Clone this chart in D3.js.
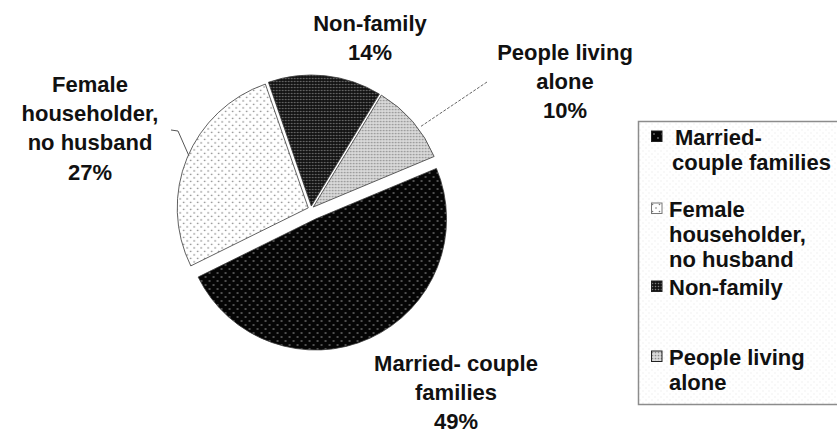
<!DOCTYPE html>
<html>
<head>
<meta charset="utf-8">
<script src="https://cdn.jsdelivr.net/npm/d3@7"></script>
<style>
  html, body { margin: 0; padding: 0; background: #fff; }
  svg { display: block; font-family: "Liberation Sans", Arial, sans-serif; }
</style>
</head>
<body>
<svg id="chart" width="837" height="435"></svg>
<script>
// Household composition shares (percent)
const categories = ["Married- couple families", "Female householder, no husband", "Non-family", "People living alone"];
const values = [49, 27, 14, 10];
const sliceLabelLines = [["Married- couple", "families"], ["Female", "householder,", "no husband"], ["Non-family"], ["People living", "alone"]];
const legendLines = [["Married-", "couple families"], ["Female", "householder,", "no husband"], ["Non-family"], ["People living", "alone"]];

const W = 837, H = 435;
const svg = d3.select("#chart");
const defs = svg.append("defs");

// Fill textures for the four slices
function dotPattern(id, size, bg, dots, dotColor, r) {
  const p = defs.append("pattern").attr("id", id).attr("patternUnits", "userSpaceOnUse")
    .attr("width", size).attr("height", size);
  p.append("rect").attr("width", size).attr("height", size).attr("fill", bg);
  dots.forEach(([x, y]) => p.append("circle").attr("cx", x).attr("cy", y).attr("r", r).attr("fill", dotColor));
  return `url(#${id})`;
}
const fills = [
  dotPattern("pMarried", 8, "#050505", [[2, 2], [6, 6]], "#6e6e6e", 0.95),
  dotPattern("pFemale", 7, "#ffffff", [[1.5, 1.5], [5, 5]], "#7a7a7a", 0.8),
  dotPattern("pNonFam", 3, "#131313", [[1.5, 1.5]], "#7c7c7c", 0.8),
  dotPattern("pAlone", 3, "#dadada", [[1.5, 1.5]], "#8c8c8c", 0.85)
];
const legendBg = dotPattern("pLegend", 6, "#ffffff", [[1, 1], [4, 4]], "#ececec", 0.7);

// Pie geometry
const cx = 311, cy = 209, radius = 131;
const explode = [11, 3, 3, 3];
const startAngle = 67.3 * Math.PI / 180;

const pie = d3.pie().sort(null).value(d => d)
  .startAngle(startAngle).endAngle(startAngle + 2 * Math.PI);
const arcs = pie(values);
const arc = d3.arc().innerRadius(0).outerRadius(radius);

const g = svg.append("g").attr("transform", `translate(${cx},${cy})`);
g.selectAll("path.slice").data(arcs).join("path")
  .attr("class", "slice")
  .attr("d", arc)
  .attr("fill", (d, i) => fills[i])
  .attr("stroke", "#3a3a3a")
  .attr("stroke-width", 0.8)
  .attr("transform", (d, i) => {
    const mid = (d.startAngle + d.endAngle) / 2;
    return `translate(${Math.sin(mid) * explode[i]},${-Math.cos(mid) * explode[i]})`;
  });

// Leader lines
svg.append("polyline").attr("points", "171,130 178,131 189,156")
  .attr("fill", "none").attr("stroke", "#555").attr("stroke-width", 1);
svg.append("line").attr("x1", 487).attr("y1", 82).attr("x2", 420).attr("y2", 127)
  .attr("stroke", "#666").attr("stroke-width", 1).attr("stroke-dasharray", "3,1.5");

// Slice labels: anchor (centre x, first baseline)
const labelAnchors = [[456, 371], [90, 92], [370, 31], [565, 60]];
const labelLineH = 29.2;
svg.selectAll("text.slabel").data(arcs).join("text")
  .attr("class", "slabel")
  .attr("text-anchor", "middle")
  .attr("font-size", 22).attr("font-weight", "bold").attr("fill", "#111")
  .each(function (d, i) {
    const t = d3.select(this);
    const lines = sliceLabelLines[i].concat([`${d.value}%`]);
    lines.forEach((ln, k) => t.append("tspan")
      .attr("x", labelAnchors[i][0]).attr("y", labelAnchors[i][1] + k * labelLineH).text(ln));
  });

// Legend
svg.append("rect").attr("x", 638.5).attr("y", 121.5).attr("width", 230).attr("height", 283)
  .attr("fill", legendBg).attr("stroke", "#8c8c8c").attr("stroke-width", 1.5);
const legendBase = [145, 217, 295, 365];
const legendLineH = 25;
const legendX = 669;
const lg = svg.append("g");
categories.forEach((c, i) => {
  lg.append("rect").attr("x", 651.5).attr("y", legendBase[i] - 14).attr("width", 10.5).attr("height", 10.5)
    .attr("fill", fills[i]).attr("stroke", i === 1 ? "#777" : "#222").attr("stroke-width", 1);
  const t = lg.append("text").attr("font-size", 22).attr("font-weight", "bold").attr("fill", "#111");
  legendLines[i].forEach((ln, k) => t.append("tspan")
    .attr("x", legendX + (i === 0 && k === 0 ? 6 : (i === 0 ? 3 : 0)))
    .attr("y", legendBase[i] + k * legendLineH).text(ln));
});
</script>
</body>
</html>
